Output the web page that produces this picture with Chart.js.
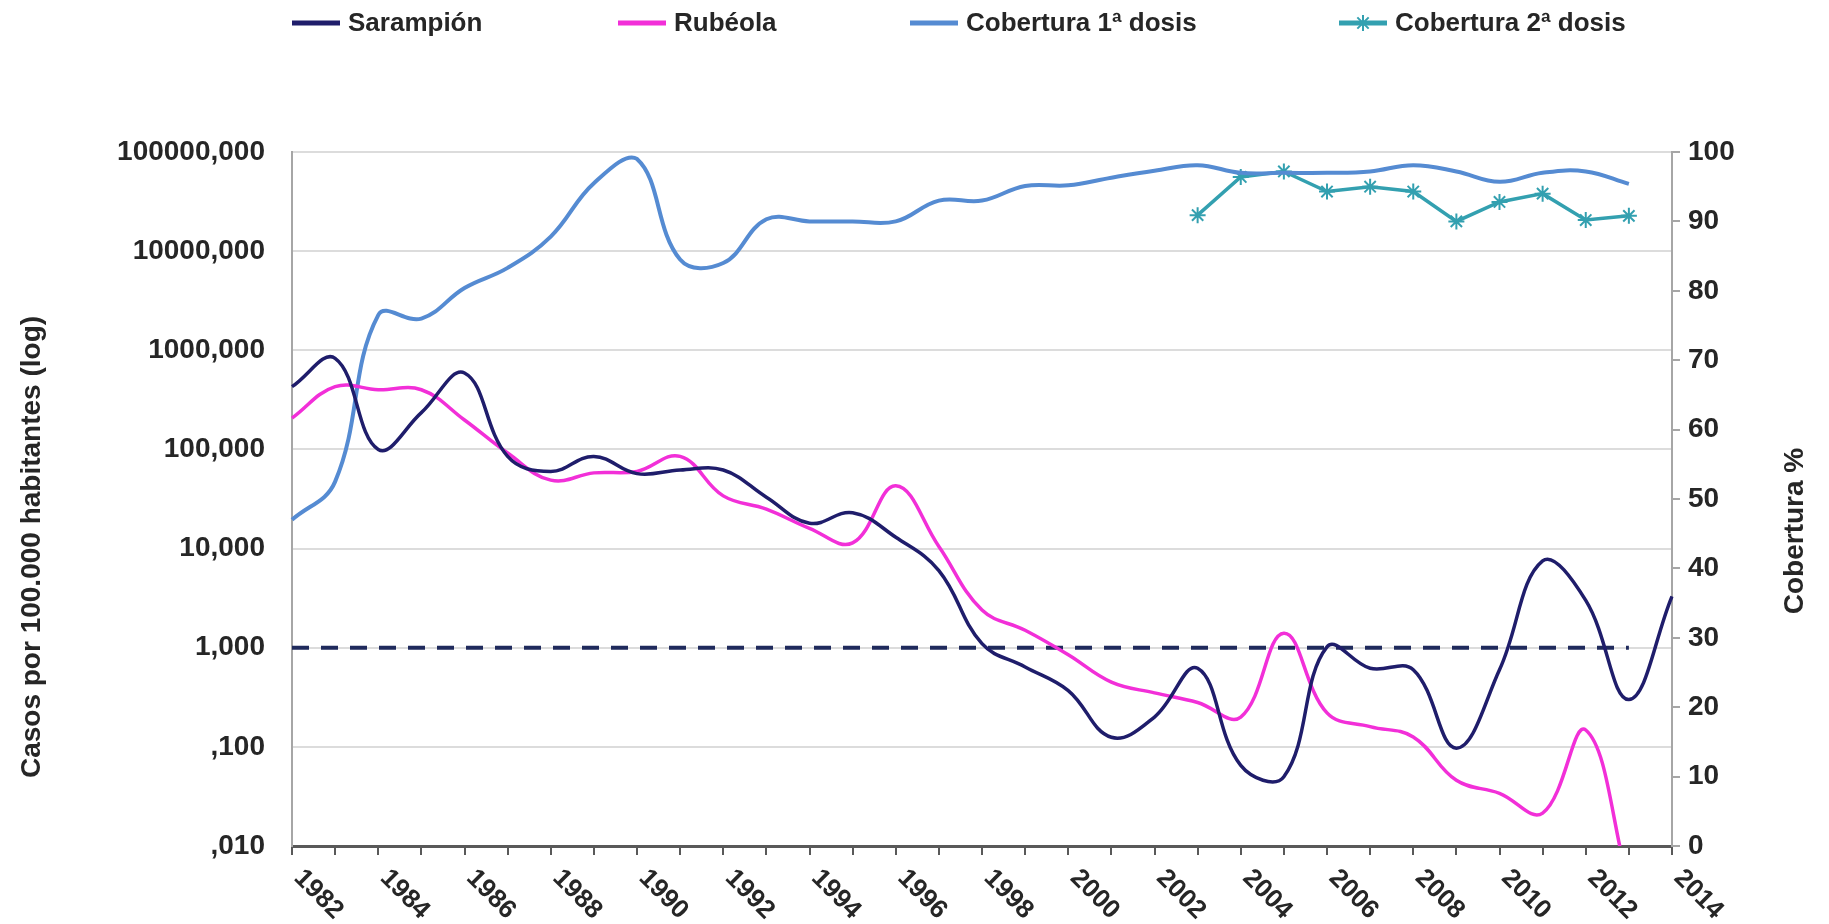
<!DOCTYPE html>
<html lang="es">
<head>
<meta charset="utf-8">
<title>Sarampión y rubéola: incidencia y cobertura</title>
<script src="https://cdn.jsdelivr.net/npm/chart.js@4.4.1/dist/chart.umd.min.js"></script>
<style>
  html, body { margin: 0; padding: 0; background: #fff; }
  #wrap { width: 1829px; height: 924px; position: relative; }
</style>
</head>
<body>
<div id="wrap"><canvas id="chart"></canvas></div>
<script>
const years = [1982, 1983, 1984, 1985, 1986, 1987, 1988, 1989, 1990, 1991, 1992,
  1993, 1994, 1995, 1996, 1997, 1998, 1999, 2000, 2001, 2002, 2003,
  2004, 2005, 2006, 2007, 2008, 2009, 2010, 2011, 2012, 2013, 2014];

// casos por 100.000 habitantes
const sarampion = [430, 830, 100, 235, 590, 85, 60, 85, 57, 62, 62,
  33, 18, 23, 13, 6, 1.1, 0.64, 0.37, 0.125, 0.2, 0.62,
  0.065, 0.05, 1.02, 0.62, 0.6, 0.097, 0.6, 7.5, 3.0, 0.3, 3.3];
const rubeola = [207, 430, 400, 400, 198, 92, 49, 58, 60, 85, 34,
  25, 16, 11.4, 43, 10.5, 2.4, 1.5, 0.85, 0.45, 0.35, 0.28,
  0.2, 1.4, 0.22, 0.16, 0.126, 0.046, 0.034, 0.0215, 0.148, 0.004, null];
const umbral = [1, 1, 1, 1, 1, 1, 1, 1, 1, 1, 1,
  1, 1, 1, 1, 1, 1, 1, 1, 1, 1, 1,
  1, 1, 1, 1, 1, 1, 1, 1, 1, 1, null];

// cobertura %
const cobertura1 = [47, 52.5, 76.5, 76, 80.4, 83.3, 87.8, 95.5, 99, 84.5, 84,
  90.3, 90, 90, 90, 93, 93, 95.1, 95.2, 96.3, 97.3, 98.1,
  97, 97, 97, 97.2, 98.1, 97.2, 95.7, 97, 97.2, 95.4, null];
const cobertura2 = [null, null, null, null, null, null, null, null, null, null, null,
  null, null, null, null, null, null, null, null, null, null, 90.9,
  96.4, 97.2, 94.3, 95, 94.3, 90, 92.8, 94, 90.2, 90.8, null];

const leftTicks = [0.01, 0.1, 1, 10, 100, 1000, 10000, 100000];
const leftTickLabels = [',010', ',100', '1,000', '10,000', '100,000', '1000,000', '10000,000', '100000,000'];

const FONT = "'Liberation Sans', Arial, sans-serif";
const INK = '#262626';

// year labels slanted down to the right, axis titles and the top legend
const decoPlugin = {
  id: 'deco',
  afterDraw(chart) {
    const ctx = chart.ctx;
    const xs = chart.scales.x;
    ctx.save();
    ctx.fillStyle = INK;
    ctx.font = `bold 26px ${FONT}`;
    ctx.textAlign = 'left';
    ctx.textBaseline = 'middle';
    years.forEach((yr, i) => {
      if (yr % 2) return;
      ctx.save();
      ctx.translate(xs.getPixelForTick(i) + 6, xs.top + 28);
      ctx.rotate(Math.PI / 4);
      ctx.fillText(String(yr), 0, 0);
      ctx.restore();
    });

    ctx.font = `bold 28px ${FONT}`;
    ctx.textAlign = 'center';
    ctx.save();
    ctx.translate(32, 547);
    ctx.rotate(-Math.PI / 2);
    ctx.fillText('Casos por 100.000 habitantes (log)', 0, 0);
    ctx.restore();
    ctx.save();
    ctx.translate(1795, 531);
    ctx.rotate(-Math.PI / 2);
    ctx.fillText('Cobertura %', 0, 0);
    ctx.restore();

    // legend
    const legendX = [292, 618, 910, 1339];
    const ly = 23;
    ctx.font = `bold 26px ${FONT}`;
    ctx.textAlign = 'left';
    chart.data.datasets.slice(0, 4).forEach((ds, i) => {
      const x0 = legendX[i];
      ctx.strokeStyle = ds.borderColor;
      ctx.lineWidth = 5;
      ctx.beginPath();
      ctx.moveTo(x0, ly);
      ctx.lineTo(x0 + 48, ly);
      ctx.stroke();
      if (ds.pointStyle === 'star') {
        ctx.lineWidth = 2;
        Chart.helpers.drawPoint(ctx, { pointStyle: 'star', radius: 8, rotation: 0, borderWidth: 2 }, x0 + 24, ly);
      }
      ctx.fillStyle = INK;
      ctx.fillText(ds.label, x0 + 56, ly + 1);
    });
    ctx.restore();
  }
};

new Chart(document.getElementById('chart'), {
  type: 'line',
  data: {
    labels: years,
    datasets: [
      {
        label: 'Sarampión',
        data: sarampion,
        yAxisID: 'y',
        borderColor: '#1f1d6b',
        borderWidth: 3.5,
        pointRadius: 0,
        tension: 0.4,
      },
      {
        label: 'Rubéola',
        data: rubeola,
        yAxisID: 'y',
        borderColor: '#f22fd8',
        borderWidth: 3.5,
        pointRadius: 0,
        tension: 0.4,
      },
      {
        label: 'Cobertura 1ª dosis',
        data: cobertura1,
        yAxisID: 'y1',
        borderColor: '#558bd2',
        borderWidth: 4,
        pointRadius: 0,
        tension: 0.4,
      },
      {
        label: 'Cobertura 2ª dosis',
        data: cobertura2,
        yAxisID: 'y1',
        borderColor: '#33a0b0',
        backgroundColor: '#33a0b0',
        borderWidth: 3.5,
        pointStyle: 'star',
        pointRadius: 8,
        pointBorderWidth: 2,
        tension: 0,
      },
      {
        label: 'Umbral',
        data: umbral,
        yAxisID: 'y',
        borderColor: '#1f2a5c',
        borderWidth: 4,
        borderDash: [17, 12],
        pointRadius: 0,
        tension: 0,
      },
    ],
  },
  options: {
    responsive: true,
    maintainAspectRatio: false,
    animation: false,
    layout: { padding: { top: 152, left: 0, right: 0, bottom: 0 } },
    plugins: {
      legend: { display: false },
      tooltip: { enabled: false },
    },
    scales: {
      x: {
        type: 'category',
        offset: false,
        afterFit: (s) => { s.height = 78; },
        ticks: { display: false },
        grid: {
          drawOnChartArea: false,
          drawTicks: true,
          tickLength: 9,
          color: '#595959',
          lineWidth: 2,
        },
        border: { display: true, color: '#595959', width: 3 },
      },
      y: {
        type: 'logarithmic',
        position: 'left',
        min: 0.01,
        max: 100000,
        afterFit: (s) => { s.width = 292; },
        afterBuildTicks: (s) => { s.ticks = leftTicks.map((v) => ({ value: v })); },
        ticks: {
          callback: (v, i) => leftTickLabels[i],
          font: { family: FONT, size: 28, weight: 'bold' },
          color: INK,
          padding: 27,
        },
        grid: { color: '#dcdcdc', lineWidth: 2, drawTicks: false },
        border: { display: true, color: '#a6a6a6', width: 2 },
      },
      y1: {
        type: 'linear',
        position: 'right',
        min: 0,
        max: 100,
        afterFit: (s) => { s.width = 157; },
        ticks: {
          stepSize: 10,
          font: { family: FONT, size: 28, weight: 'bold' },
          color: INK,
          padding: 8,
        },
        grid: {
          drawOnChartArea: false,
          drawTicks: true,
          tickLength: 8,
          color: '#a6a6a6',
          lineWidth: 2,
        },
        border: { display: true, color: '#a6a6a6', width: 2 },
      },
    },
  },
  plugins: [decoPlugin],
});
</script>
</body>
</html>
